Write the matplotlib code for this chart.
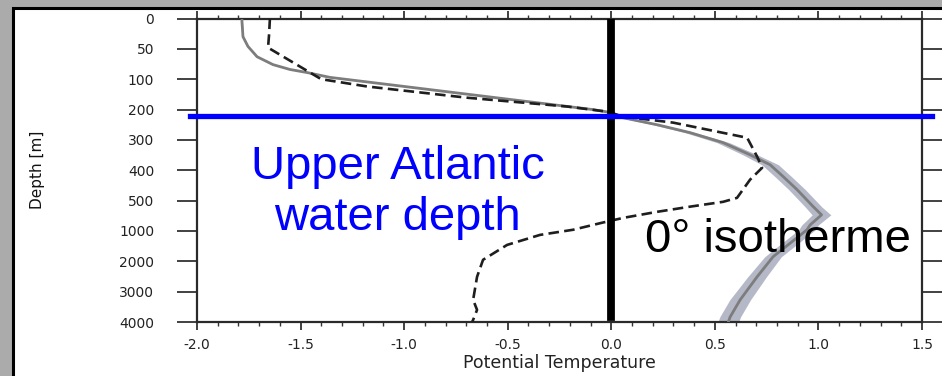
import numpy as np
import matplotlib.pyplot as plt
from matplotlib.patches import Rectangle

# depth axis is non-linear: evenly spaced labelled levels
depth_levels = [0, 50, 100, 200, 300, 400, 500, 1000, 2000, 3000, 4000]
depth_labels = ['0', '50', '100', '200', '300', '400', '500', '1000', '2000', '3000', '4000']
temp_ticks = [-2.0, -1.5, -1.0, -0.5, 0.0, 0.5, 1.0, 1.5]
temp_labels = ['-2.0', '-1.5', '-1.0', '-0.5', '0.0', '0.5', '1.0', '1.5']

# grey mean profile + spread
mean_depth = [0, 5, 30, 46, 63, 76, 84, 89, 97, 200, 210, 227, 250, 276, 309, 349, 382,
              421, 464, 600, 735, 900, 980, 1850, 2510, 3270, 3830, 4000]
mean_temp = [-1.783, -1.783, -1.778, -1.754, -1.71, -1.633, -1.551, -1.469, -1.358, -0.09,
             0.0, 0.057, 0.221, 0.38, 0.54, 0.67, 0.767, 0.83, 0.897, 0.975, 1.015, 0.96,
             0.945, 0.781, 0.704, 0.622, 0.574, 0.565]
mean_spread = [0.003, 0.003, 0.003, 0.003, 0.003, 0.003, 0.003, 0.003, 0.003, 0.008,
               0.01, 0.015, 0.02, 0.025, 0.03, 0.035, 0.04, 0.04, 0.04, 0.04, 0.045, 0.04,
               0.04, 0.04, 0.045, 0.05, 0.05, 0.05]

# dashed profile
dash_depth = [0, 26, 48, 96, 100, 124, 161, 190, 207, 223, 243, 266, 293, 355, 392, 431,
              491, 520, 600, 685, 785, 865, 980, 1130, 1460, 1950, 2510, 3270, 3600, 3930, 4000]
dash_temp = [-1.648, -1.652, -1.657, -1.42, -1.40, -1.179, -0.696, -0.213, -0.02, 0.057,
             0.298, 0.463, 0.656, 0.704, 0.728, 0.67, 0.607, 0.54, 0.38, 0.221, 0.057,
             -0.045, -0.184, -0.344, -0.503, -0.619, -0.648, -0.667, -0.648, -0.667, -0.672]

upper_atlantic_depth = 220
isotherm = 0.0

levels_idx = np.arange(len(depth_levels))


def fwd(d):
    return np.interp(d, depth_levels, levels_idx)


def inv(i):
    return np.interp(i, levels_idx, depth_levels)


fig = plt.figure(figsize=(9.42, 3.76), dpi=100)
fig.patch.set_facecolor('#ababab')
panel = Rectangle((12.5 / 942, -0.05), 1.0, 1.05 - 8.5 / 376, transform=fig.transFigure,
                  facecolor='white', edgecolor='black', linewidth=2.2, zorder=-1)
fig.add_artist(panel)

ax = fig.add_axes([197 / 942, 1 - 322 / 376, 725 / 942, 303.5 / 376])
ax.set_facecolor('none')
ax.set_yscale('function', functions=(fwd, inv))
ax.set_ylim(4000, 0)
ax.set_xlim(-2.0, 1.5)

ax.fill_betweenx(mean_depth, np.array(mean_temp) - np.array(mean_spread),
                 np.array(mean_temp) + np.array(mean_spread),
                 color='#b5b8c7', linewidth=0, zorder=2)
ax.plot(mean_temp, mean_depth, color='#7d7d7d', lw=2.0, zorder=3)
ax.plot(dash_temp, dash_depth, color='#1e1e1e', lw=1.9, dashes=(4, 2), zorder=4)

ax.axvline(isotherm, ymin=0.016, ymax=1, color='black', lw=5.6, zorder=5)
ax.axhline(upper_atlantic_depth, xmin=-0.0097, xmax=1.014, color='#0000ff', lw=3.8,
           clip_on=False, zorder=6)

ax.set_xticks(temp_ticks)
ax.set_xticklabels(temp_labels)
ax.set_xticks(np.arange(-2.0, 1.51, 0.1), minor=True)
ax.set_yticks(depth_levels)
ax.set_yticklabels(depth_labels)
ax.yaxis.set_minor_locator(plt.NullLocator())

ax.tick_params(axis='x', which='major', direction='out', length=5.8, width=1.3,
               color='#333333', top=True, pad=6, labelsize=10, labelcolor='#222222')
ax.tick_params(axis='x', which='minor', direction='out', length=3.2, width=1.0,
               color='#333333', top=True)
ax.tick_params(axis='y', which='major', direction='out', length=14.4, width=1.3,
               color='#333333', right=True, pad=16.5, labelsize=10, labelcolor='#222222')
for s in ax.spines.values():
    s.set_linewidth(1.6)
    s.set_color('#2a2a2a')

ax.set_xlabel('Potential Temperature', fontsize=12.5, color='#222222', labelpad=1.5)
ax.set_ylabel('Depth [m]', fontsize=11, color='#111111')
ax.yaxis.set_label_coords(-0.21, 0.5)

ax.text(0.277, 0.3031, 'Upper Atlantic\nwater depth', transform=ax.transAxes,
        ha='center', va='baseline', fontsize=34, color='#0000ff',
        family='Liberation Sans', linespacing=1.2, zorder=7)
ax.text(0.618, 0.2306, '0° isotherme', transform=ax.transAxes, ha='left',
        va='baseline', fontsize=34, color='black', family='Liberation Sans', zorder=7)

fig.savefig('out.png', dpi=100, facecolor=fig.get_facecolor())
